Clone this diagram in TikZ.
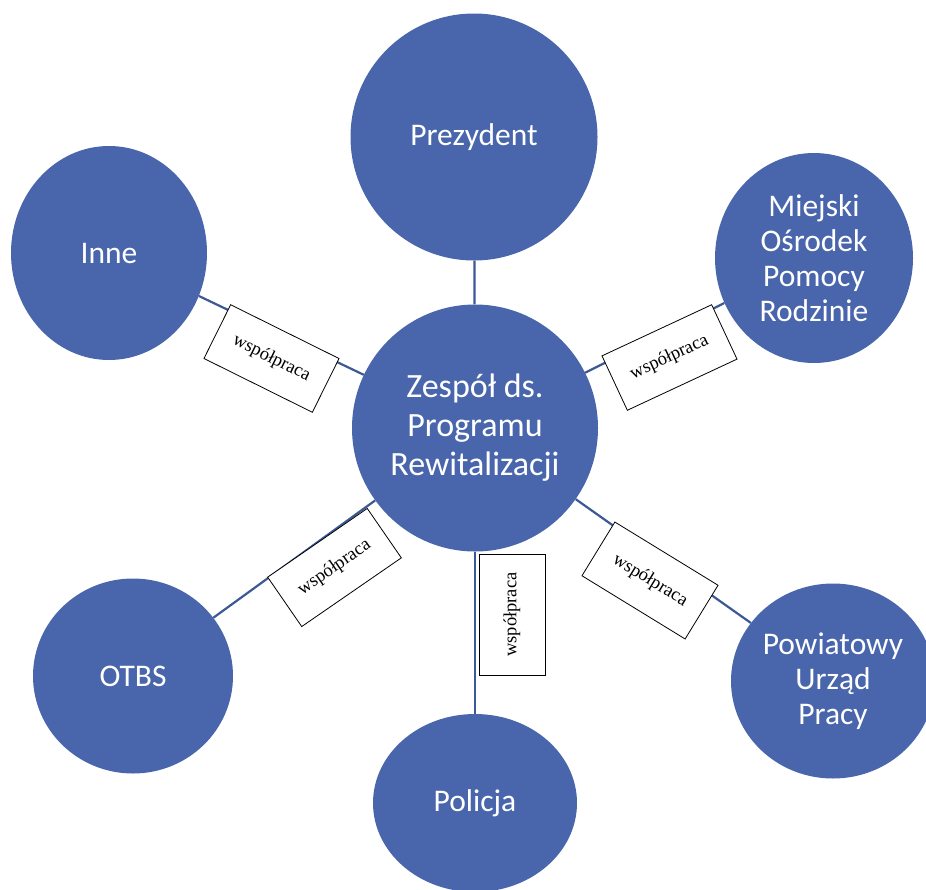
\documentclass[tikz,border=0pt]{standalone}
\usepackage{fontspec}
\setmainfont{Liberation Serif}
\setsansfont{Carlito}
\usetikzlibrary{shapes.geometric}
\definecolor{niebieski}{RGB}{73,102,172}
\definecolor{granat}{RGB}{60,88,150}

\begin{document}
\begin{tikzpicture}[
  x=1pt, y=-1pt,
  kolo/.style={ellipse,fill=niebieski,text=white,inner sep=0pt,align=center,font=\sffamily\fontsize{31.5}{35}\selectfont},
  polaczenie/.style={draw=granat,line width=2.2pt},
  wspolpraca/.style={draw,fill=white,line width=0.8pt,minimum width=121pt,minimum height=60pt,inner sep=0pt,font=\fontsize{18.5}{21}\selectfont}
]
\useasboundingbox (0,0) rectangle (926,889);
\node[kolo,minimum width=246pt,minimum height=247pt,font=\sffamily\fontsize{34}{39}\selectfont] (zespol) at (475,428) {Zespół ds.\\Programu\\Rewitalizacji};
\node[kolo,minimum width=247pt,minimum height=247pt] (prezydent) at (474,137) {Prezydent};
\node[kolo,minimum width=198pt,minimum height=210pt] (mops) at (814,258) {Miejski\\Ośrodek\\Pomocy\\Rodzinie};
\node[kolo,minimum width=196pt,minimum height=214pt] (inne) at (109,253) {Inne};
\node[kolo,minimum width=200pt,minimum height=195pt] (otbs) at (133,676) {OTBS};
\node[kolo,minimum width=204pt,minimum height=178pt] (policja) at (475,803) {Policja};
\node[kolo,minimum width=204pt,minimum height=195pt] (pup) at (833,681) {Powiatowy\\Urząd\\Pracy};
% connectors
\draw[polaczenie] (zespol) -- (prezydent);
\draw[polaczenie] (zespol) -- (mops);
\draw[polaczenie] (zespol) -- (inne);
\draw[polaczenie] (zespol) -- (otbs);
\draw[polaczenie] (zespol) -- (policja);
\draw[polaczenie] (zespol) -- (pup);
% labels on the connectors
\node[wspolpraca,rotate=-26.4] (w1) at (271.5,358.5) {współpraca};
\node[wspolpraca,rotate=25] (w2) at (669.5,357.5) {współpraca};
\node[wspolpraca,rotate=34.6] (w3) at (334.5,567.5) {współpraca};
\node[wspolpraca,rotate=90,minimum height=66pt] (w4) at (512,614.5) {współpraca};
\node[wspolpraca,rotate=-31.5,minimum height=63pt] (w5) at (650,580.5) {współpraca};
\end{tikzpicture}
\end{document}
